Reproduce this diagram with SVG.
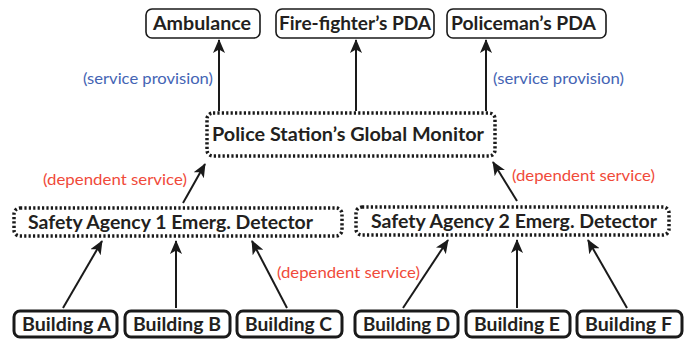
<svg xmlns="http://www.w3.org/2000/svg" width="697" height="341" viewBox="0 0 697 341">
<style>
.thin{fill:#fff;stroke:#1a1a1a;stroke-width:1.6}
.thick{fill:#fff;stroke:#1a1a1a;stroke-width:3}
.dot{fill:#fff;stroke:#1a1a1a;stroke-width:3.5;stroke-dasharray:2.2 2.2}
.lbl{font-family:Lato,"Liberation Sans",Arial,sans-serif;font-weight:bold;fill:#231f20;text-anchor:middle}
.blue{font-family:Lato,"Liberation Sans",Arial,sans-serif;font-size:16px;fill:#4464b4}
.red{font-family:Lato,"Liberation Sans",Arial,sans-serif;font-size:16px;fill:#f04a3a}
.edge{stroke:#1a1a1a;stroke-width:2;fill:none;marker-end:url(#ah)}
</style>
<defs>
<marker id="ah" markerUnits="userSpaceOnUse" markerWidth="14" markerHeight="12" viewBox="0 0 14 12" refX="13" refY="6" orient="auto">
<path d="M0,0 L14,6 L0,12 L3.5,6 Z" fill="#1a1a1a"/>
</marker>
</defs>
<rect width="697" height="341" fill="#fff"/>
<g id="connectors">
<line class="edge" x1="219" y1="111" x2="219" y2="40"/>
<line class="edge" x1="356" y1="111" x2="356" y2="40"/>
<line class="edge" x1="486" y1="111" x2="486" y2="40"/>
<line class="edge" x1="183" y1="203" x2="205" y2="164"/>
<line class="edge" x1="517" y1="201" x2="493" y2="162"/>
<line class="edge" x1="63" y1="308" x2="102" y2="241"/>
<line class="edge" x1="176" y1="308" x2="176" y2="241"/>
<line class="edge" x1="287" y1="308" x2="252" y2="241"/>
<line class="edge" x1="403" y1="308" x2="448" y2="240"/>
<line class="edge" x1="517" y1="308" x2="517" y2="240"/>
<line class="edge" x1="627" y1="308" x2="588" y2="240"/>
<text class="blue" x="83" y="84" textLength="130" lengthAdjust="spacingAndGlyphs">(service provision)</text>
<text class="blue" x="493" y="84" textLength="131" lengthAdjust="spacingAndGlyphs">(service provision)</text>
<text class="red" x="43" y="185" textLength="144" lengthAdjust="spacingAndGlyphs">(dependent service)</text>
<text class="red" x="512" y="181" textLength="143" lengthAdjust="spacingAndGlyphs">(dependent service)</text>
<text class="red" x="277" y="278" textLength="143" lengthAdjust="spacingAndGlyphs">(dependent service)</text>
</g>
<g id="ambulance"><rect class="thin" x="146" y="9" width="114" height="29" rx="6"/><text class="lbl" x="202" y="30" font-size="19" textLength="98" lengthAdjust="spacingAndGlyphs">Ambulance</text></g>
<g id="firefighter"><rect class="thin" x="276" y="9" width="158" height="29" rx="6"/><text class="lbl" x="355" y="30" font-size="19" textLength="152" lengthAdjust="spacingAndGlyphs">Fire-fighter’s PDA</text></g>
<g id="policeman"><rect class="thin" x="447" y="9" width="159" height="29" rx="6"/><text class="lbl" x="523.5" y="30" font-size="19" textLength="145" lengthAdjust="spacingAndGlyphs">Policeman’s PDA</text></g>
<g id="monitor"><rect class="dot" x="207" y="113" width="288" height="43" rx="6"/><text class="lbl" x="348" y="141" font-size="19" textLength="272" lengthAdjust="spacingAndGlyphs">Police Station’s Global Monitor</text></g>
<g id="agency1"><rect class="dot" x="14" y="208" width="328" height="28" rx="6"/><text class="lbl" x="170.5" y="229" font-size="19" textLength="285" lengthAdjust="spacingAndGlyphs">Safety Agency 1 Emerg. Detector</text></g>
<g id="agency2"><rect class="dot" x="356" y="207" width="313" height="28" rx="6"/><text class="lbl" x="514" y="228" font-size="19" textLength="286" lengthAdjust="spacingAndGlyphs">Safety Agency 2 Emerg. Detector</text></g>
<g id="buildingA"><rect class="thick" x="14" y="311" width="103" height="26" rx="6"/><text class="lbl" x="66.5" y="331" font-size="19" textLength="89" lengthAdjust="spacingAndGlyphs">Building A</text></g>
<g id="buildingB"><rect class="thick" x="125" y="311" width="105" height="26" rx="6"/><text class="lbl" x="177" y="331" font-size="19" textLength="88" lengthAdjust="spacingAndGlyphs">Building B</text></g>
<g id="buildingC"><rect class="thick" x="237" y="311" width="105" height="26" rx="6"/><text class="lbl" x="288.5" y="331" font-size="19" textLength="87" lengthAdjust="spacingAndGlyphs">Building C</text></g>
<g id="buildingD"><rect class="thick" x="355" y="311" width="103" height="26" rx="6"/><text class="lbl" x="406.5" y="331" font-size="19" textLength="87" lengthAdjust="spacingAndGlyphs">Building D</text></g>
<g id="buildingE"><rect class="thick" x="466" y="311" width="104" height="26" rx="6"/><text class="lbl" x="517" y="331" font-size="19" textLength="86" lengthAdjust="spacingAndGlyphs">Building E</text></g>
<g id="buildingF"><rect class="thick" x="577" y="311" width="105" height="26" rx="6"/><text class="lbl" x="628.5" y="331" font-size="19" textLength="87" lengthAdjust="spacingAndGlyphs">Building F</text></g>
</svg>
